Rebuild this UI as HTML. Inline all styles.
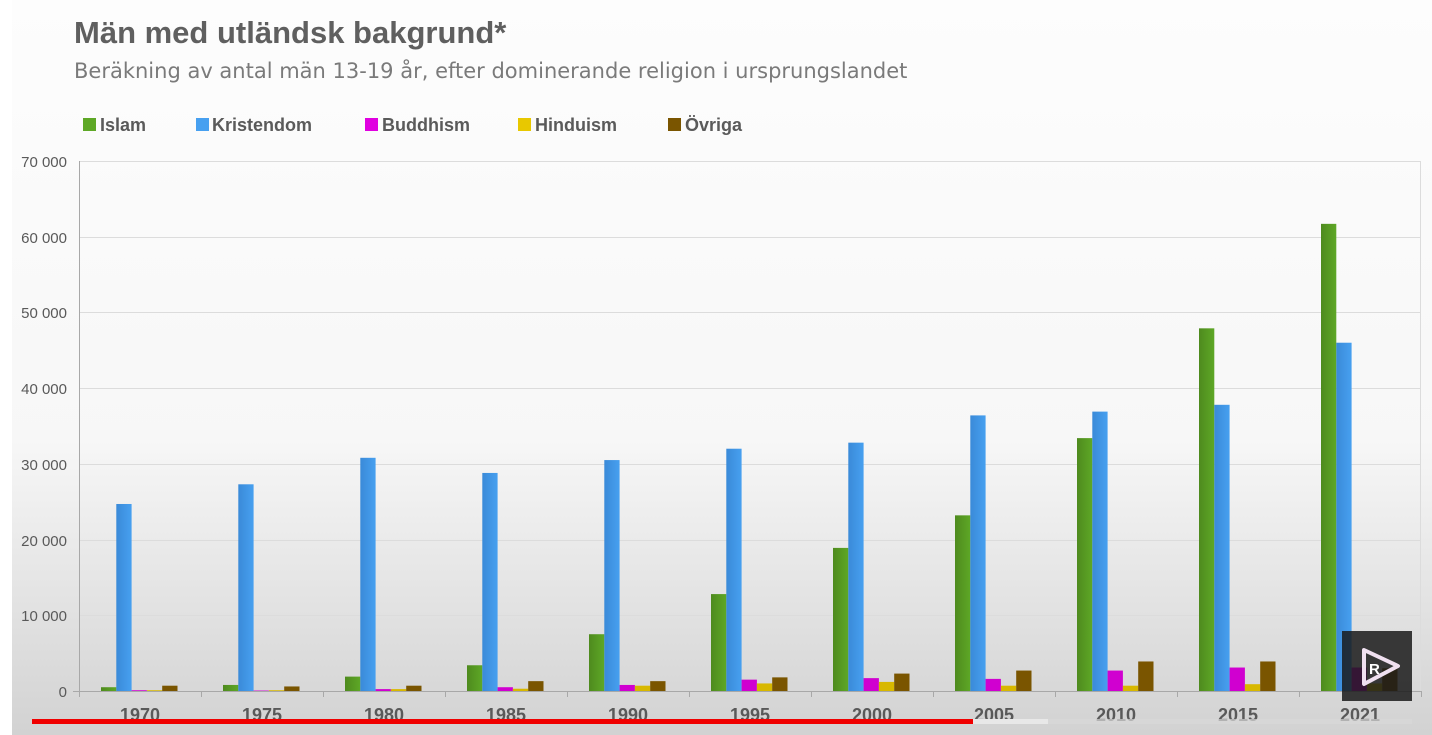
<!DOCTYPE html>
<html><head><meta charset="utf-8"><style>
html,body{margin:0;padding:0;background:#fff;}
svg{display:block;font-family:"Liberation Sans",sans-serif;}
</style></head><body>
<svg width="1432" height="735" viewBox="0 0 1432 735">
<defs>
<linearGradient id="bg" x1="0" y1="0" x2="0" y2="1">
<stop offset="0" stop-color="#fdfdfd"/><stop offset="0.6" stop-color="#f7f7f7"/><stop offset="1" stop-color="#d2d2d2"/>
</linearGradient>
<linearGradient id="gG" x1="0" y1="0" x2="1" y2="0"><stop offset="0" stop-color="#4e8a1e"/><stop offset="1" stop-color="#5ea826"/></linearGradient>
<linearGradient id="gK" x1="0" y1="0" x2="1" y2="0"><stop offset="0" stop-color="#3a8ad8"/><stop offset="1" stop-color="#47a0f0"/></linearGradient>
</defs>
<rect x="12" y="0" width="1420" height="735" fill="url(#bg)"/>
<text x="74" y="43" font-size="31" font-weight="bold" fill="#5f5f5f">Män med utländsk bakgrund*</text>
<text x="74" y="78" font-size="21" fill="#7a7a7a" font-family="DejaVu Sans, sans-serif">Beräkning av antal män 13-19 år, efter dominerande religion i ursprungslandet</text>
<g font-size="18" font-weight="bold" fill="#5a5a5a">
<rect x="83" y="118" width="13" height="13" fill="#5ea826"/><text x="100" y="131">Islam</text>
<rect x="196" y="118" width="13" height="13" fill="#47a0f0"/><text x="212" y="131">Kristendom</text>
<rect x="365" y="118" width="13" height="13" fill="#e000e0"/><text x="382" y="131">Buddhism</text>
<rect x="518" y="118" width="13" height="13" fill="#e8c800"/><text x="535" y="131">Hinduism</text>
<rect x="668" y="118" width="13" height="13" fill="#7a5500"/><text x="685" y="131">Övriga</text>
</g>
<g stroke="#dcdcdc" stroke-width="1">
<line x1="79" y1="161.5" x2="1421" y2="161.5"/><line x1="79" y1="237.5" x2="1421" y2="237.5"/>
<line x1="79" y1="312.5" x2="1421" y2="312.5"/><line x1="79" y1="388.5" x2="1421" y2="388.5"/>
<line x1="79" y1="464.5" x2="1421" y2="464.5"/><line x1="79" y1="540.5" x2="1421" y2="540.5"/>
<line x1="79" y1="615.5" x2="1421" y2="615.5"/>
<line x1="1420.5" y1="161" x2="1420.5" y2="691"/>
</g>
<g stroke="#a8a8a8" stroke-width="1">
<line x1="79.5" y1="161" x2="79.5" y2="697"/><line x1="73" y1="691.5" x2="1421" y2="691.5"/>
</g>
<g font-size="15" fill="#595959" text-anchor="end">
<text x="67" y="167">70 000</text><text x="67" y="243">60 000</text><text x="67" y="318">50 000</text>
<text x="67" y="394">40 000</text><text x="67" y="470">30 000</text><text x="67" y="546">20 000</text>
<text x="67" y="621">10 000</text><text x="67" y="697">0</text>
</g>
<g id="bars"></g>
<g font-size="18" font-weight="bold" fill="#595959" text-anchor="middle" id="xl"></g>
<g stroke="#a8a8a8" id="ticks"></g>
<rect x="32" y="719" width="941" height="5" fill="#f00000"/>
<rect x="973" y="719" width="75" height="5" fill="#e8e8e8"/>
<rect x="1048" y="719" width="364" height="5" fill="#d8d8d8" opacity="0.7"/>
<rect x="1342" y="631" width="70" height="70" fill="#1a1a1a" opacity="0.85"/>
<path d="M1364 650 L1398 666 L1364 684 Z" fill="none" stroke="#f0e0f0" stroke-width="4" stroke-linejoin="round"/>
<text x="1369" y="674" font-size="15" font-weight="bold" fill="#fff">R</text>
</svg>
<script>
var data=[[500,24700,100,100,700],[800,27300,60,100,600],[1900,30800,250,250,700],[3400,28800,500,300,1300],[7500,30500,800,700,1300],[12800,32000,1500,1000,1800],[18900,32800,1700,1200,2300],[23200,36400,1600,700,2700],[33400,36900,2700,700,3900],[47900,37800,3100,900,3900],[61700,46000,3100,1000,3000]];
var yrs=["1970","1975","1980","1985","1990","1995","2000","2005","2010","2015","2021"];
var cols=["url(#gG)","url(#gK)","#d000d0","#d8b800","#7a5500"];
var ns="http://www.w3.org/2000/svg",b=document.getElementById("bars"),xl=document.getElementById("xl"),tk=document.getElementById("ticks");
var gw=122,x0=79,bw=15.3;
data.forEach(function(g,i){
 var gx=x0+i*gw;
 g.forEach(function(v,j){var h=v*530/70000;var r=document.createElementNS(ns,"rect");
 r.setAttribute("x",gx+22+j*bw);r.setAttribute("y",691-h);r.setAttribute("width",bw);r.setAttribute("height",h);r.setAttribute("fill",cols[j]);b.appendChild(r);});
 var t=document.createElementNS(ns,"text");t.setAttribute("x",gx+gw/2);t.setAttribute("y",721);t.textContent=yrs[i];xl.appendChild(t);
 var l=document.createElementNS(ns,"line");l.setAttribute("x1",gx+gw+0.5);l.setAttribute("x2",gx+gw+0.5);l.setAttribute("y1",691);l.setAttribute("y2",697);tk.appendChild(l);
});
</script>
</body></html>
